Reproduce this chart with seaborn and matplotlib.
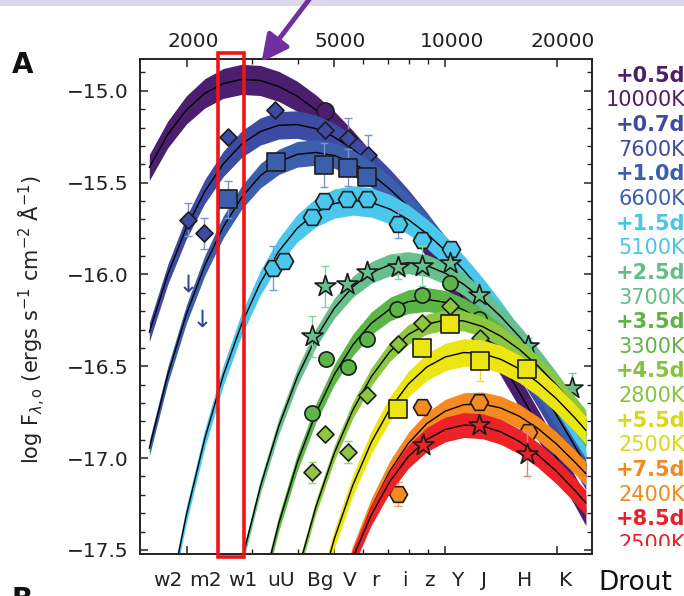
import numpy as np
import matplotlib
matplotlib.use("Agg")
import matplotlib.pyplot as plt
import seaborn as sns
from matplotlib.patches import Rectangle, FancyArrowPatch
from matplotlib.transforms import ScaledTranslation, blended_transform_factory
from matplotlib.ticker import MultipleLocator, NullFormatter

nan = np.nan

# ---------------- data ----------------
# wavelengths (Angstrom) at which the fitted blackbody SED curves are read
wave_grid = [1585, 1778, 1995, 2239, 2512, 2818, 3162, 3548, 3981, 4467, 5012,
             5623, 6310, 7079, 7943, 8913, 10000, 11220, 12589, 14125, 15849,
             17783, 19953, 22387, 23988]

day_labels = ['+0.5d', '+0.7d', '+1.0d', '+1.5d', '+2.5d', '+3.5d', '+4.5d', '+5.5d', '+7.5d', '+8.5d']
temp_labels = ['10000K', '7600K', '6600K', '5100K', '3700K', '3300K', '2800K', '2500K', '2400K', '2500K']

# log F of the fitted curves
sed_05 = [-15.418, -15.238, -15.105, -15.014, -14.960, -14.938, -14.944, -14.976, -15.030, -15.104, -15.193,
          -15.298, -15.415, -15.543, -15.681, -15.826, -15.979, -16.137, -16.301, -16.469, -16.641,
          -16.817, -16.995, -17.176, -17.286]
sed_07 = [-16.315, -16.000, -15.747, -15.548, -15.398, -15.290, -15.222, -15.188, -15.184, -15.206, -15.252,
          -15.318, -15.402, -15.501, -15.613, -15.737, -15.871, -16.014, -16.164, -16.320, -16.482,
          -16.648, -16.819, -16.993, -17.099]
sed_10 = [-16.947, -16.547, -16.218, -15.951, -15.741, -15.580, -15.463, -15.387, -15.346, -15.336, -15.352,
          -15.393, -15.455, -15.535, -15.631, -15.740, -15.862, -15.994, -16.135, -16.283, -16.438,
          -16.599, -16.764, -16.934, -17.038]
sed_15 = [nan, -17.811, -17.311, -16.893, -16.549, -16.268, -16.046, -15.874, -15.748, -15.663, -15.614,
          -15.597, -15.608, -15.644, -15.701, -15.778, -15.870, -15.977, -16.096, -16.226, -16.365,
          -16.512, -16.665, -16.825, -16.922]
sed_25 = [nan, nan, nan, nan, -18.041, -17.559, -17.157, -16.826, -16.558, -16.346, -16.184,
          -16.067, -15.989, -15.948, -15.936, -15.952, -15.993, -16.054, -16.134, -16.229, -16.338,
          -16.460, -16.591, -16.732, -16.820]
sed_35 = [nan, nan, nan, nan, nan, -18.238, -17.756, -17.355, -17.024, -16.756, -16.545,
          -16.384, -16.266, -16.189, -16.148, -16.136, -16.152, -16.193, -16.254, -16.334, -16.429,
          -16.538, -16.660, -16.791, -16.876]
sed_45 = [nan, nan, nan, nan, nan, nan, nan, -18.062, -17.627, -17.267, -16.973,
          -16.739, -16.557, -16.421, -16.327, -16.271, -16.248, -16.253, -16.283, -16.336, -16.408,
          -16.497, -16.601, -16.717, -16.793]
sed_55 = [nan, nan, nan, nan, nan, nan, nan, nan, -18.233, -17.799, -17.440,
          -17.148, -16.914, -16.733, -16.597, -16.504, -16.449, -16.425, -16.431, -16.462, -16.514,
          -16.587, -16.676, -16.780, -16.849]
sed_75 = [nan, nan, nan, nan, nan, nan, nan, nan, nan, -18.225, -17.840,
          -17.525, -17.270, -17.071, -16.920, -16.812, -16.744, -16.709, -16.705, -16.727, -16.772,
          -16.838, -16.922, -17.021, -17.085]
sed_85 = [nan, nan, nan, nan, nan, nan, nan, nan, nan, -18.194, -17.835,
          -17.543, -17.309, -17.128, -16.992, -16.899, -16.844, -16.820, -16.826, -16.857, -16.909,
          -16.982, -17.071, -17.175, -17.244]
# half-width of the shaded uncertainty band near the peak (dex)
band_hw = [0.082, 0.075, 0.07, 0.08, 0.06, 0.065, 0.055, 0.075, 0.065, 0.068]

# photometry: wavelength, log F, error
obs_05_wave = [4730]
obs_05_flux = [-15.110]
obs_05_err = [0.03]
obs_07_wave = [2019, 2228, 2580, 3465, 4730, 5468, 6193]
obs_07_flux = [-15.703, -15.775, -15.250, -15.105, -15.214, -15.259, -15.349]
obs_07_err = [0.09, 0.085, 0, 0, 0, 0.11, 0.11]
obs_10_wave = [2592, 3486, 4700, 5447, 6154]
obs_10_flux = [-15.590, -15.389, -15.404, -15.418, -15.471]
obs_10_err = [0.10, 0, 0.12, 0.10, 0]
obs_15_wave = [3423, 3665, 4354, 4710, 5434, 6154, 7473, 8677, 10342]
obs_15_flux = [-15.964, -15.926, -15.685, -15.599, -15.589, -15.590, -15.726, -15.811, -15.864]
obs_15_err = [0.12, 0, 0, 0, 0, 0, 0.075, 0, 0]
obs_25_wave = [4354, 4730, 5414, 6154, 7464, 8635, 10297, 12357, 16766, 21959]
obs_25_flux = [-16.337, -16.065, -16.051, -15.987, -15.957, -15.953, -15.938, -16.110, -16.391, -16.617]
obs_25_err = [0.11, 0.11, 0, 0, 0.07, 0.11, 0, 0, 0.045, 0.08]
obs_35_wave = [4354, 4760, 5447, 6154, 7389, 8635, 10297, 12334]
obs_35_flux = [-16.753, -16.460, -16.505, -16.351, -16.188, -16.114, -16.047, -16.241]
obs_35_err = [0, 0, 0, 0, 0, 0, 0, 0]
obs_45_wave = [4354, 4730, 5447, 6154, 7464, 8677, 10330, 12408]
obs_45_flux = [-17.078, -16.867, -16.967, -16.659, -16.377, -16.265, -16.170, -16.344]
obs_45_err = [0.055, 0, 0.06, 0, 0, 0, 0, 0]
obs_55_wave = [7473, 8652, 10330, 12387, 16664]
obs_55_flux = [-16.730, -16.401, -16.268, -16.471, -16.513]
obs_55_err = [0, 0, 0, 0.11, 0]
obs_75_wave = [7473, 8668, 12372, 16700]
obs_75_flux = [-17.193, -16.721, -16.697, -16.859]
obs_75_err = [0.065, 0, 0, 0]
obs_85_wave = [8689, 12357, 16664]
obs_85_flux = [-16.926, -16.822, -16.980]
obs_85_err = [0, 0, 0.12]

# upper limits (UV, +1.0d)
uplim_wave = [2017, 2200]
uplim_flux = [-16.048, -16.238]

# axis labels
top_tick_vals = [2000, 5000, 10000, 20000]
top_tick_labels = ['2000', '5000', '10000', '20000']
top_minor_vals = [3000, 4000, 6000, 7000, 8000, 9000]
ytick_vals = [-15.0, -15.5, -16.0, -16.5, -17.0, -17.5]
ytick_labels = ['\u221215.0', '\u221215.5', '\u221216.0', '\u221216.5', '\u221217.0', '\u221217.5']
filter_labels = ['w2', 'm2', 'w1', 'uU', 'Bg', 'V', 'r', 'i', 'z', 'Y', 'J', 'H', 'K']
filter_pos = [1780, 2241, 2839, 3597, 4584, 5526, 6456, 7781, 9036, 10755, 12724, 16424, 21200]

# ---------------- style ----------------
colors = ['#4b1e6e', '#3d4ba3', '#3b5fab', '#4cc7ec', '#67bf8d', '#5cb547', '#8dc63f', '#ebe512', '#f58b1f', '#ec2229']
text_colors = ['#4b1e6e', '#3d4ba3', '#3b5fab', '#49c5ea', '#63bd86', '#62b243', '#88c23d', '#dcd618', '#f28a1e', '#e8202a']
err_colors = ['#7b68a8', '#7f8fd0', '#7f8fd0', '#7a9ad8', '#7fd3a0', '#8bd07a', '#9ed45f', '#e6df3a', '#f5a050', '#f07a80']
markers = ['o', 'D', 's', 'H', '*', 'o', 'D', 's', 'H', '*']
msizes = [150, 75, 150, 170, 250, 120, 75, 150, 170, 250]

sns.set_theme(style='ticks')
plt.rcParams['font.family'] = ['DejaVu Sans']
plt.rcParams['mathtext.fontset'] = 'dejavusans'

W, H = 684, 596
fig = plt.figure(figsize=(W / 100, H / 100), dpi=100)
fig.patch.set_facecolor('white')


def fx(px):
    return px / W


def fy(py):
    return 1 - py / H


ax = fig.add_axes([fx(140), fy(554), (592 - 140) / W, (554 - 59) / H])
ax.set_facecolor('white')
ax.set_xscale('log')
ax.set_xlim(1496, 24920)
ax.set_ylim(-17.522, -14.827)

seds = [sed_05, sed_07, sed_10, sed_15, sed_25, sed_35, sed_45, sed_55, sed_75, sed_85]
obs_w = [obs_05_wave, obs_07_wave, obs_10_wave, obs_15_wave, obs_25_wave, obs_35_wave, obs_45_wave,
         obs_55_wave, obs_75_wave, obs_85_wave]
obs_f = [obs_05_flux, obs_07_flux, obs_10_flux, obs_15_flux, obs_25_flux, obs_35_flux, obs_45_flux,
         obs_55_flux, obs_75_flux, obs_85_flux]
obs_e = [obs_05_err, obs_07_err, obs_10_err, obs_15_err, obs_25_err, obs_35_err, obs_45_err,
         obs_55_err, obs_75_err, obs_85_err]

# display aspect: pixels per dex in y and in log-lambda
px_per_dex_y = 495 / (17.522 - 14.827)
px_per_dex_x = 452 / np.log10(24920 / 1496)

wg = np.array(wave_grid, dtype=float)
Z = 2
for i in range(10):
    y = np.array(seds[i], dtype=float)
    ok = ~np.isnan(y)
    xo, yo = wg[ok], y[ok]
    # band looks thinner where the curve rises steeply on the blue side
    s = np.gradient(yo, np.log10(xo)) * px_per_dex_y / px_per_dex_x
    taper = 1 / np.sqrt(1 + (np.clip(s, 0, None) / 3.0) ** 2)
    h = band_hw[i] * taper
    ax.fill_between(xo, yo - h, yo + h, color=colors[i], lw=0, zorder=Z)
    sns.lineplot(x=xo, y=yo, color='black', lw=1.0, ax=ax, zorder=Z, legend=False)
    w, f, e = obs_w[i], obs_f[i], obs_e[i]
    idx = [k for k in range(len(w)) if e[k] > 0]
    if idx:
        ax.errorbar([w[k] for k in idx], [f[k] for k in idx], yerr=[e[k] for k in idx], fmt='none',
                    ecolor=err_colors[i], elinewidth=1.0, capsize=3, capthick=1.0, zorder=Z)
    sns.scatterplot(x=w, y=f, marker=markers[i], s=msizes[i], color=colors[i], edgecolor='#1c1c1c',
                    linewidth=1.2, ax=ax, zorder=Z, legend=False)
    if i == 2:
        sns.scatterplot(x=uplim_wave, y=uplim_flux, marker=r'$\downarrow$', s=160,
                        color='#34449a', linewidth=0, ax=ax, zorder=Z, legend=False)

# ticks
ax.set_xticks(top_tick_vals)
ax.set_xticks(top_minor_vals, minor=True)
ax.xaxis.set_major_formatter(NullFormatter())
ax.xaxis.set_minor_formatter(NullFormatter())
ax.set_yticks(ytick_vals, labels=ytick_labels)
ax.yaxis.set_minor_locator(MultipleLocator(0.1))
ax.tick_params(axis='both', which='both', direction='in', top=True, right=True, bottom=True, left=True,
               labelbottom=False, labeltop=False, colors='#222222')
ax.tick_params(which='major', length=6, width=1.1)
ax.tick_params(which='minor', length=3.5, width=1.0)
ax.tick_params(axis='y', labelsize=14.5, pad=8.0, labelcolor='#222222')
for sp in ax.spines.values():
    sp.set_linewidth(1.4)
    sp.set_color('#222222')
    sp.set_zorder(5)

xtrans = blended_transform_factory(ax.transData, ax.transAxes)
for v, lab in zip(top_tick_vals, top_tick_labels):
    ax.text(v, (554 - 46.7) / 495, lab, transform=xtrans + ScaledTranslation(0.065, 0, fig.dpi_scale_trans),
            ha='center', va='baseline', fontsize=14.5, color='#222222')
for v, lab in zip(filter_pos, filter_labels):
    ax.text(v, (554 - 586) / 495, lab, transform=xtrans, ha='center', va='baseline',
            fontsize=14.5, color='#222222', clip_on=False)

ax.set_ylabel(r'log F$_{\lambda,\mathrm{o}}$ (ergs s$^{-1}$ cm$^{-2}$ Å$^{-1}$)', fontsize=15, color='#222222')
ax.yaxis.label.set(rotation_mode='default', ha='center', va='center')
ax.yaxis.set_label_coords((32 - 140) / 452, (554 - 320) / 495)

# right-hand epoch / temperature column
for i in range(10):
    base_day = 81.7 + 2 * i * 24.65
    base_t = base_day + 24.65
    fig.text(fx(685.5), fy(base_day), day_labels[i], ha='right', va='baseline', fontsize=15,
             fontweight='bold', color=text_colors[i])
    fig.text(fx(685.5), fy(base_t), temp_labels[i], ha='right', va='baseline', fontsize=15,
             color=text_colors[i])
fig.add_artist(Rectangle((fx(594), fy(566)), fx(684) - fx(594), (566 - 546) / H, transform=fig.transFigure,
                         facecolor='white', edgecolor='none', zorder=20))
fig.text(fx(598), fy(590), 'Drout', ha='left', va='baseline', fontsize=19, color='#111111', zorder=21)

# panel letters
fig.text(fx(12), fy(73.3), 'A', ha='left', va='baseline', fontsize=20, fontweight='bold', color='#111111')
fig.text(fx(12), fy(607.7), 'B', ha='left', va='baseline', fontsize=20, fontweight='bold', color='#111111')

# top lavender strip
fig.add_artist(Rectangle((0, fy(6)), 1, 6 / H, transform=fig.transFigure, facecolor='#ddd6e9',
                         edgecolor='none', zorder=0))

# red highlight box
fig.add_artist(Rectangle((fx(218.3), fy(556.5)), (243.7 - 218.3) / W, (556.5 - 53.3) / H,
                         transform=fig.transFigure, fill=False, edgecolor='#f01414', lw=2.6, zorder=30))

# purple arrow
fig.add_artist(FancyArrowPatch(posA=(fx(311), fy(-3)), posB=(fx(261.5), fy(62)), transform=fig.transFigure,
                               arrowstyle='-|>', mutation_scale=40, lw=3.5, color='#7030a0',
                               shrinkA=0, shrinkB=0, zorder=31))

fig.savefig('out.png', dpi=100)
